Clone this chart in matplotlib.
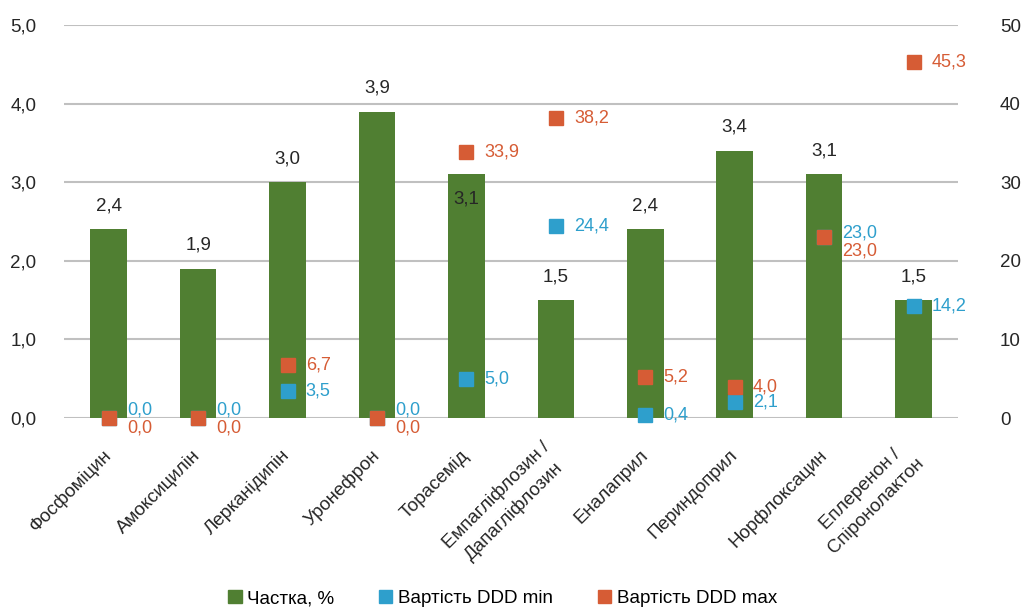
import matplotlib
matplotlib.use("Agg")
import matplotlib.pyplot as plt
from matplotlib.patches import Patch

plt.rcParams['font.family'] = ['Liberation Sans', 'DejaVu Sans']

drugs = ['Фосфоміцин', 'Амоксицилін', 'Лерканідипін', 'Уронефрон', 'Торасемід',
         'Емпагліфлозин /\nДапагліфлозин', 'Еналаприл', 'Периндоприл',
         'Норфлоксацин', 'Еплеренон /\nСпіронолактон']
share = [2.4, 1.9, 3.0, 3.9, 3.1, 1.5, 2.4, 3.4, 3.1, 1.5]
ddd_min = [0.0, 0.0, 3.5, 0.0, 5.0, 24.4, 0.4, 2.1, 23.0, 14.2]
ddd_max = [0.0, 0.0, 6.7, 0.0, 33.9, 38.2, 5.2, 4.0, 23.0, 45.3]

green = '#507f32'
blue = '#2e9fcc'
orange = '#d65c35'

def fmt(v):
    return f'{v:.1f}'.replace('.', ',')

fig, ax = plt.subplots(figsize=(10.26, 6.13), dpi=100)
fig.subplots_adjust(left=0.0624, right=0.934, top=0.959, bottom=0.318)
ax2 = ax.twinx()

x = range(len(drugs))
ax.bar(x, share, width=0.41, color=green, zorder=2)
ax.set_ylim(0, 5)
ax.set_yticks([0, 1, 2, 3, 4, 5])
ax.set_yticklabels([fmt(v) for v in [0, 1, 2, 3, 4, 5]])
ax.yaxis.grid(True, color='#c0c0c0', linewidth=1.5, zorder=0)
ax.set_axisbelow(True)
ax.set_xlim(-0.5, len(drugs) - 0.5)

ax2.set_ylim(0, 50)
ax2.set_yticks(range(0, 51, 10))
ax2.plot(x, ddd_min, 's', color=blue, markersize=10, zorder=3, clip_on=False)
ax2.plot(x, ddd_max, 's', color=orange, markersize=10, zorder=4, clip_on=False)

for a in (ax, ax2):
    for s in a.spines.values():
        s.set_visible(False)
ax.tick_params(axis='y', length=0, pad=20, labelsize=13.5, labelcolor='#262626')
ax2.tick_params(axis='y', length=0, pad=30, labelsize=13.5, labelcolor='#262626')
ax.tick_params(axis='x', length=0, pad=25)

ax.set_xticks(list(x))
ax.set_xticklabels(drugs, rotation=45, ha='right', va='center', rotation_mode='anchor',
                   fontsize=13.5, color='#262626', multialignment='center',
                   linespacing=1.45)

# bar value labels
for i, v in enumerate(share):
    dy = -18 if i == 4 else 17
    ax.annotate(fmt(v), (i, v), xytext=(0, dy), textcoords='offset points',
                ha='center', va='center', fontsize=13.5, color='#262626', zorder=5)

# marker value labels
for i, (lo, hi) in enumerate(zip(ddd_min, ddd_max)):
    if lo == hi:
        dlo, dhi = (6, -7) if lo == 0 else (3, -10)
    else:
        dlo, dhi = 0, 0
    ax2.annotate(fmt(lo), (i, lo), xytext=(13, dlo), textcoords='offset points',
                 ha='left', va='center', fontsize=13, color=blue)
    ax2.annotate(fmt(hi), (i, hi), xytext=(13, dhi), textcoords='offset points',
                 ha='left', va='center', fontsize=13, color=orange)

handles = [Patch(color=green, label='Частка, %'),
           Patch(color=blue, label='Вартість DDD min'),
           Patch(color=orange, label='Вартість DDD max')]
fig.legend(handles=handles, loc='lower center', bbox_to_anchor=(0.49, -0.018), ncol=3,
           frameon=False, fontsize=13.5, handlelength=0.7, handleheight=0.7,
           handletextpad=0.3, columnspacing=2.4)

fig.savefig('out.png', dpi=100)
